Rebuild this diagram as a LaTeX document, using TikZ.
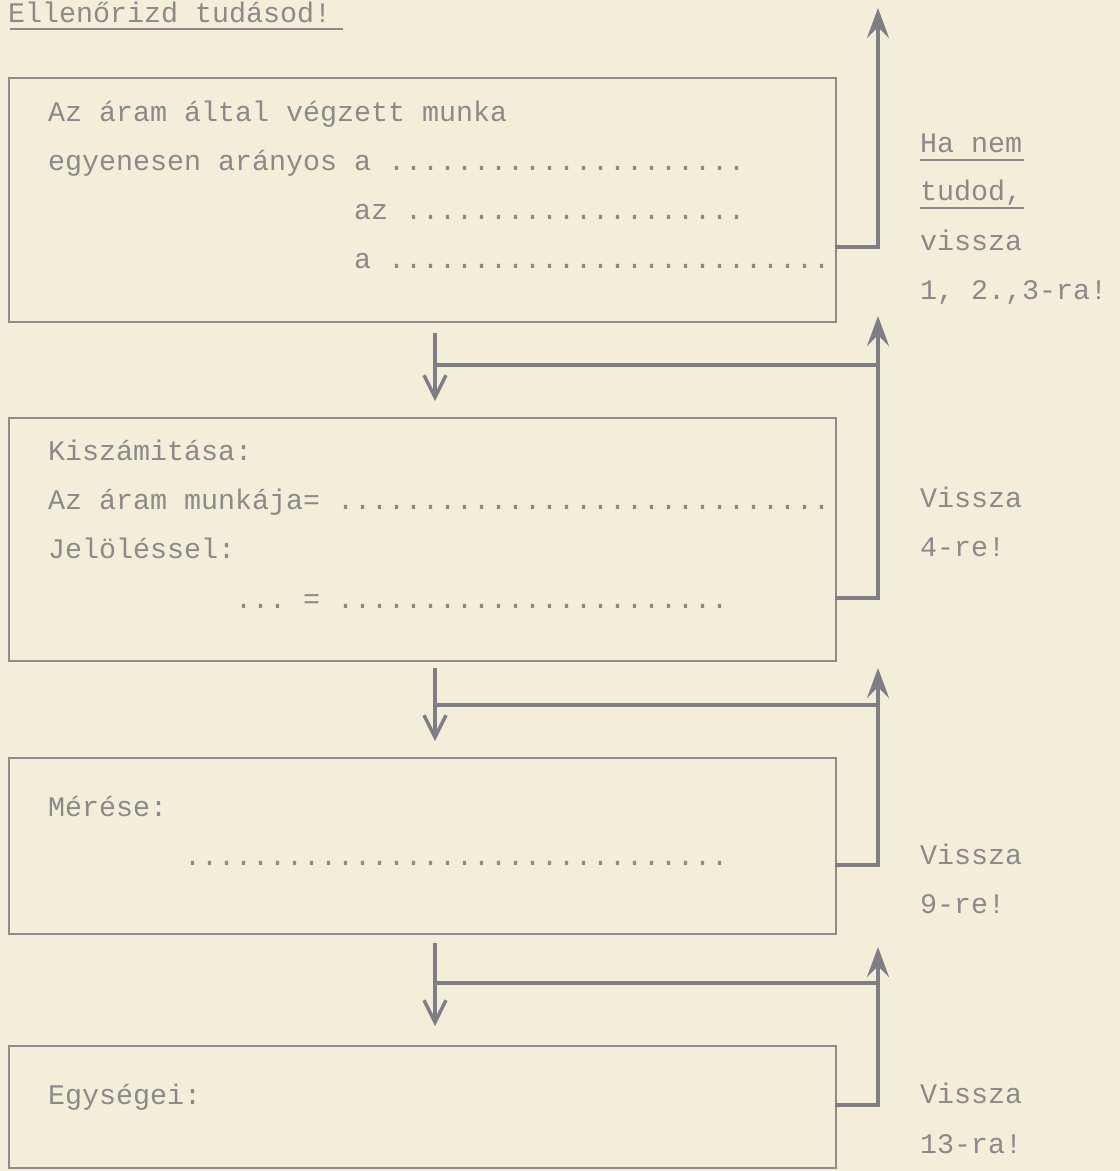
\documentclass[tikz,border=0pt]{standalone}
\usepackage{fontspec}
\setmonofont{Liberation Mono}
\usetikzlibrary{arrows.meta}
\definecolor{paper}{HTML}{F3EEDA}
\definecolor{ink}{HTML}{8A8A88}
\definecolor{boxc}{HTML}{8C8C88}
\definecolor{linec}{HTML}{7E7E84}
\begin{document}
\begin{tikzpicture}[x=1pt,y=-1pt,
  txt/.style={anchor=base west, inner sep=0pt, font=\fontsize{28.33}{30}\selectfont\ttfamily, text=ink},
  box/.style={draw=boxc, line width=1.8pt, anchor=north west, inner sep=0pt, minimum width=827pt},
  conn/.style={draw=linec, line width=3.4pt},
  thin/.style={draw=ink, line width=1.6pt},
  uparrow/.style={-{Stealth[length=30pt,width=22pt,inset=11pt]}},
  downarrow/.style={-{Straight Barb[length=22pt,width=22pt]}}]
\fill[paper] (0,0) rectangle (1120,1171);
\useasboundingbox (0,0) rectangle (1120,1171);

% title
\node[txt] (title) at (8,22) {Ellenőrizd tudásod!};
\draw[thin] ([shift={(2pt,-7pt)}]title.base west) -- ([shift={(12pt,-7pt)}]title.base east);

% boxes
\node[box, minimum height=244pt] (b1) at (8,77) {};
\node[box, minimum height=243pt] (b2) at (8,417) {};
\node[box, minimum height=176pt] (b3) at (8,757) {};
\node[box, minimum height=122pt] (b4) at (8,1045) {};

% box 1 text
\node[txt] (t11) at (48,121) {Az áram által végzett munka};
\node[txt] (t12) at (48,170) {egyenesen arányos a .....................};
\node[txt] (t13) at (354,219) {az ....................};
\node[txt] (t14) at (354,268) {a ..........................};

% box 2 text
\node[txt] (t21) at (48,460) {Kiszámitása:};
\node[txt] (t22) at (48,509) {Az áram munkája= .............................};
\node[txt] (t23) at (48,558) {Jelöléssel:};
\node[txt] (t24) at (235,608) {... = .......................};

% box 3 text
\node[txt] (t31) at (48,816) {Mérése:};
\node[txt] (t32) at (184,865) {................................};

% box 4 text
\node[txt] (t41) at (48,1104) {Egységei:};

% right texts
\node[txt] (r11) at (920,152) {Ha nem};
\node[txt] (r12) at (920,200) {tudod,};
\node[txt] (r13) at (920,250) {vissza};
\node[txt] (r14) at (920,299) {1, 2.,3-ra!};
\draw[thin] ([yshift=-8pt]r11.base west) -- ([shift={(2pt,-8pt)}]r11.base east);
\draw[thin] ([yshift=-8pt]r12.base west) -- ([shift={(2pt,-8pt)}]r12.base east);

\node[txt] (r21) at (920,507) {Vissza};
\node[txt] (r22) at (920,556) {4-re!};
\node[txt] (r31) at (920,864) {Vissza};
\node[txt] (r32) at (920,913) {9-re!};
\node[txt] (r41) at (920,1103) {Vissza};
\node[txt] (r42) at (920,1153) {13-ra!};

% connector coordinates
\coordinate (e1) at (835,247);
\coordinate (k1) at (878,247);
\coordinate (u1) at (878,8);

\coordinate (e2) at (835,598);
\coordinate (k2) at (878,598);
\coordinate (u2) at (878,316);
\coordinate (h2) at (878,365);
\coordinate (l2) at (435,365);
\coordinate (d2s) at (435,333);
\coordinate (d2e) at (435,401);

\coordinate (e3) at (835,865);
\coordinate (k3) at (878,865);
\coordinate (u3) at (878,668);
\coordinate (h3) at (878,705);
\coordinate (l3) at (435,705);
\coordinate (d3s) at (435,668);
\coordinate (d3e) at (435,741);

\coordinate (e4) at (835,1105);
\coordinate (k4) at (878,1105);
\coordinate (u4) at (878,947);
\coordinate (h4) at (878,983);
\coordinate (l4) at (435,983);
\coordinate (d4s) at (435,943);
\coordinate (d4e) at (435,1026);

% connectors
\draw[conn, uparrow] (e1) -- (k1) -- (u1);

\draw[conn, uparrow] (e2) -- (k2) -- (u2);
\draw[conn] (h2) -- (l2);
\draw[conn, downarrow] (d2s) -- (d2e);

\draw[conn, uparrow] (e3) -- (k3) -- (u3);
\draw[conn] (h3) -- (l3);
\draw[conn, downarrow] (d3s) -- (d3e);

\draw[conn, uparrow] (e4) -- (k4) -- (u4);
\draw[conn] (h4) -- (l4);
\draw[conn, downarrow] (d4s) -- (d4e);
\end{tikzpicture}
\end{document}
